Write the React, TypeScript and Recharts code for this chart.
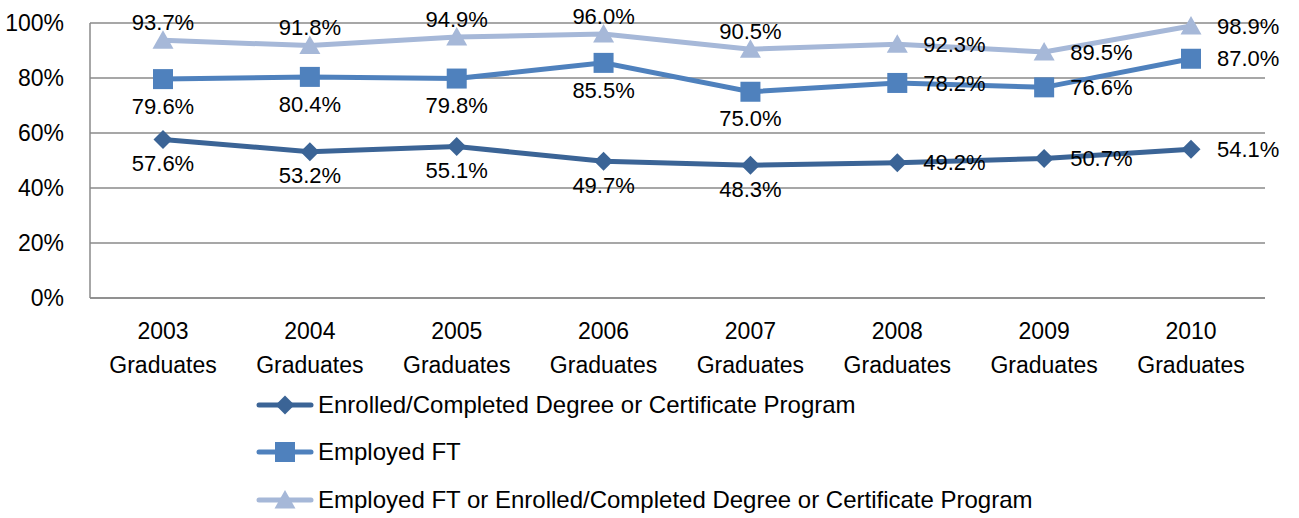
import { LineChart, Line, XAxis, YAxis, CartesianGrid, Legend, LabelList } from "recharts";

const categories = [
  "2003 Graduates",
  "2004 Graduates",
  "2005 Graduates",
  "2006 Graduates",
  "2007 Graduates",
  "2008 Graduates",
  "2009 Graduates",
  "2010 Graduates",
];
const enrolled = [57.6, 53.2, 55.1, 49.7, 48.3, 49.2, 50.7, 54.1];
const employedFT = [79.6, 80.4, 79.8, 85.5, 75.0, 78.2, 76.6, 87.0];
const employedOrEnrolled = [93.7, 91.8, 94.9, 96.0, 90.5, 92.3, 89.5, 98.9];
const yTicks = [0, 20, 40, 60, 80, 100];

const SERIES = [
  { key: "enrolled", name: "Enrolled/Completed Degree or Certificate Program", color: "#3B6496", shape: "diamond", labelDy: 24 },
  { key: "employed", name: "Employed FT", color: "#4F81BD", shape: "square", labelDy: 27 },
  { key: "either", name: "Employed FT or Enrolled/Completed Degree or Certificate Program", color: "#A6B8D8", shape: "triangle", labelDy: -18 },
];

// from this point index on, Excel put the labels to the right of the marker
const RIGHT_FROM = 5;
const FONT = "'Liberation Sans', Arial, sans-serif";

const data = categories.map((c, i) => ({
  name: c,
  enrolled: enrolled[i],
  employed: employedFT[i],
  either: employedOrEnrolled[i],
}));

const Marker = ({ cx, cy, color, shape }: any) => {
  if (cx == null || cy == null) return null;
  if (shape === "diamond") {
    return <polygon points={`${cx},${cy - 9.5} ${cx + 9.5},${cy} ${cx},${cy + 9.5} ${cx - 9.5},${cy}`} fill={color} />;
  }
  if (shape === "square") {
    return <rect x={cx - 10} y={cy - 10} width={20} height={20} fill={color} />;
  }
  return <polygon points={`${cx},${cy - 10} ${cx + 10.5},${cy + 8.5} ${cx - 10.5},${cy + 8.5}`} fill={color} />;
};

const makeLabel = (labelDy: number) => (props: any) => {
  const { x, y, value, index } = props;
  const text = `${Number(value).toFixed(1)}%`;
  if (index >= RIGHT_FROM) {
    return (
      <text x={x + 26} y={y} dy="0.35em" textAnchor="start" fontSize={22} fontFamily={FONT} fill="#000">
        {text}
      </text>
    );
  }
  return (
    <text x={x} y={y + labelDy} dy="0.35em" textAnchor="middle" fontSize={22} fontFamily={FONT} fill="#000">
      {text}
    </text>
  );
};

const XTick = ({ x, y, payload }: any) => {
  const [year, word] = String(payload.value).split(" ");
  return (
    <g>
      <text x={x} y={y + 25} dy="0.35em" textAnchor="middle" fontSize={23} fontFamily={FONT} fill="#000">
        {year}
      </text>
      <text x={x} y={y + 59} dy="0.35em" textAnchor="middle" fontSize={23} fontFamily={FONT} fill="#000">
        {word}
      </text>
    </g>
  );
};

const LegendContent = () => (
  <div style={{ fontFamily: FONT, fontSize: 24, color: "#000" }}>
    {SERIES.map((s) => (
      <div key={s.key} style={{ display: "flex", alignItems: "center", height: 47.5 }}>
        <svg width={58} height={22} style={{ marginRight: 4 }}>
          <line x1={3} y1={11} x2={55} y2={11} stroke={s.color} strokeWidth={5} strokeLinecap="round" />
          <Marker cx={29} cy={11} color={s.color} shape={s.shape} />
        </svg>
        <span>{s.name}</span>
      </div>
    ))}
  </div>
);

export default function App() {
  return (
    <div style={{ position: "absolute", left: 0, top: 0, background: "#fff" }}>
      <LineChart width={1299} height={518} data={data} margin={{ top: 23, right: 34, bottom: 0, left: 0 }}>
        <CartesianGrid vertical={false} stroke="#8a8a8a" strokeWidth={1.5} />
        <XAxis
          dataKey="name"
          tick={<XTick />}
          tickLine={false}
          axisLine={{ stroke: "#8a8a8a", strokeWidth: 1.5 }}
          height={220}
          interval={0}
          padding={{ left: 73, right: 74 }}
        />
        <YAxis
          domain={[0, 100]}
          ticks={yTicks}
          tickFormatter={(v) => `${v}%`}
          tick={{ fontSize: 23, fontFamily: FONT, fill: "#000" }}
          tickLine={false}
          tickSize={0}
          tickMargin={26}
          axisLine={{ stroke: "#8a8a8a", strokeWidth: 1.5 }}
          width={90}
        />
        <Legend
          layout="vertical"
          align="center"
          verticalAlign="middle"
          content={<LegendContent />}
          wrapperStyle={{ top: 381, left: 256, width: "auto" }}
        />
        {SERIES.map((s) => (
          <Line
            key={s.key}
            dataKey={s.key}
            name={s.name}
            stroke={s.color}
            strokeWidth={5}
            isAnimationActive={false}
            dot={(p: any) => <Marker key={`${s.key}-${p.index}`} cx={p.cx} cy={p.cy} color={s.color} shape={s.shape} />}
            activeDot={false}
          >
            <LabelList dataKey={s.key} content={makeLabel(s.labelDy)} />
          </Line>
        ))}
      </LineChart>
    </div>
  );
}
